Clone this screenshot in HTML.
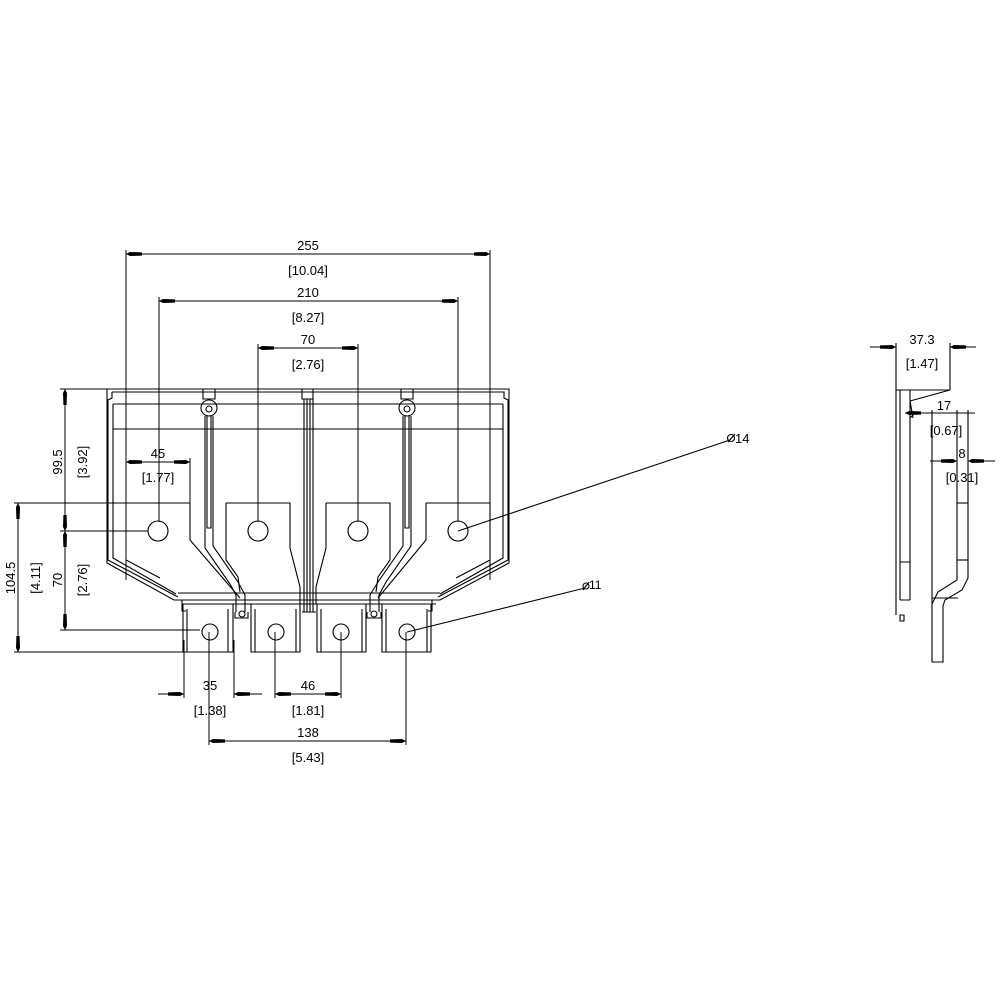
<!DOCTYPE html>
<html><head><meta charset="utf-8"><style>
html,body{margin:0;padding:0;background:#fff;}
svg{display:block;}
text{font-family:"Liberation Sans",sans-serif;font-size:13px;fill:#000;}
</style></head><body>
<svg width="1000" height="1000" viewBox="0 0 1000 1000" xmlns="http://www.w3.org/2000/svg">
<defs>
<marker id="a" markerUnits="userSpaceOnUse" markerWidth="20" markerHeight="8" refX="0" refY="0" viewBox="-18 -4 20 8" orient="auto-start-reverse" overflow="visible">
<polygon points="0,0 -4,-2 -16,-1.6 -16,1.6 -4,2" fill="#000"/>
</marker>
</defs>
<g stroke="#000" stroke-width="1.1" fill="none" shape-rendering="crispEdges">
<line x1="126" y1="250" x2="126" y2="580"/>
<line x1="490" y1="250" x2="490" y2="580"/>
<line x1="126" y1="254" x2="490" y2="254" marker-start="url(#a)" marker-end="url(#a)"/>
<line x1="159" y1="297" x2="159" y2="522"/>
<line x1="458" y1="297" x2="458" y2="522"/>
<line x1="159" y1="301" x2="458" y2="301" marker-start="url(#a)" marker-end="url(#a)"/>
<line x1="258" y1="344" x2="258" y2="522"/>
<line x1="358" y1="344" x2="358" y2="522"/>
<line x1="258" y1="348" x2="358" y2="348" marker-start="url(#a)" marker-end="url(#a)"/>
<line x1="190" y1="458" x2="190" y2="540"/>
<line x1="126" y1="462" x2="190" y2="462" marker-start="url(#a)" marker-end="url(#a)"/>
<line x1="60" y1="389" x2="107" y2="389"/>
<line x1="14" y1="503" x2="190" y2="503"/>
<line x1="60" y1="531" x2="148" y2="531"/>
<line x1="60" y1="630" x2="200" y2="630"/>
<line x1="14" y1="652" x2="185" y2="652"/>
<line x1="65" y1="389" x2="65" y2="531" marker-start="url(#a)" marker-end="url(#a)"/>
<line x1="65" y1="531" x2="65" y2="630" marker-start="url(#a)" marker-end="url(#a)"/>
<line x1="18" y1="503" x2="18" y2="652" marker-start="url(#a)" marker-end="url(#a)"/>
<line x1="184" y1="640" x2="184" y2="698"/>
<line x1="234" y1="640" x2="234" y2="698"/>
<line x1="158" y1="694" x2="184" y2="694" marker-end="url(#a)"/>
<line x1="262" y1="694" x2="234" y2="694" marker-end="url(#a)"/>
<line x1="275" y1="632" x2="275" y2="698"/>
<line x1="341" y1="632" x2="341" y2="698"/>
<line x1="275" y1="694" x2="341" y2="694" marker-start="url(#a)" marker-end="url(#a)"/>
<line x1="209" y1="632" x2="209" y2="745"/>
<line x1="406" y1="632" x2="406" y2="745"/>
<line x1="209" y1="741" x2="406" y2="741" marker-start="url(#a)" marker-end="url(#a)"/>
</g>
<g stroke="#000" stroke-width="1.1" fill="none">
<line x1="458" y1="531" x2="730" y2="440"/>
<line x1="407" y1="632" x2="585" y2="588"/>
<circle cx="731" cy="438" r="3.5"/><line x1="728" y1="442" x2="735" y2="434"/>
<circle cx="586" cy="586" r="3"/><line x1="583" y1="590" x2="589" y2="582"/>

<path d="M107,389 H509 V563 L440,600 H432 V611 H428"/>
<path d="M107,389 V563 L174,600 H182 V611 H186"/>
<path d="M112,392 H504 V398 L508,400 V560 L438,597"/>
<path d="M112,392 V398 L108,400 V560 L178,597"/>
<path d="M113,404 H503 M113,404 V558 L176,594 M503,404 V558 L440,594"/>
<line x1="113" y1="429" x2="503" y2="429"/>
<line x1="174" y1="600" x2="440" y2="600"/>
<line x1="178" y1="593" x2="440" y2="593"/>
<line x1="182" y1="604" x2="436" y2="604"/>
<path d="M126,560 L160,578 M190,503 V540 L240,598"/>
<path d="M226,503 H290 V548 L300,587 V604 M226,503 V560 L238,577 L240,592"/>
<path d="M326,503 H390 V560 L378,577 L376,592 M326,503 V548 L316,587 V604"/>
<path d="M426,503 H490 V560 L456,578 M426,503 V540 L378,598"/>
<path d="M302,389 V399 H313 V389 M304,399 V612 M307,399 V612 M310,399 V612 M313,399 V612 M302,612 H316"/>
<path d="M203,389 V399 H215 V389"/>
<circle cx="209" cy="408" r="8"/><circle cx="209" cy="409" r="3"/>
<path d="M207,416 V528 H211 V416 M205,416 V548 L230,584 L236,595 V612 M213,416 V546 L238,582 L245,595 V612"/>
<circle cx="242" cy="614" r="3"/>
<path d="M235,612 V618 H248 V612"/>
<path d="M401,389 V399 H413 V389"/>
<circle cx="407" cy="408" r="8"/><circle cx="407" cy="409" r="3"/>
<path d="M405,416 V528 H409 V416 M403,416 V546 L378,582 L370,595 V612 M411,416 V546 L386,582 L379,595 V612"/>
<circle cx="374" cy="614" r="3"/>
<path d="M367,612 V618 H381 V612"/>
<circle cx="158" cy="531" r="10"/>
<circle cx="258" cy="531" r="10"/>
<circle cx="358" cy="531" r="10"/>
<circle cx="458" cy="531" r="10"/>
<path d="M183,604 V652 H233 V604 M187,609 V652 M228,609 V652"/>
<path d="M251,604 V652 H300 V604 M255,609 V652 M296,609 V652"/>
<path d="M317,604 V652 H366 V604 M321,609 V652 M362,609 V652"/>
<path d="M382,604 V652 H431 V604 M386,609 V652 M427,609 V652"/>
<circle cx="210" cy="632" r="8"/>
<circle cx="276" cy="632" r="8"/>
<circle cx="341" cy="632" r="8"/>
<circle cx="407" cy="632" r="8"/>

<line x1="896" y1="343" x2="896" y2="390"/>
<line x1="950" y1="343" x2="950" y2="390"/>
<line x1="870" y1="347" x2="896" y2="347" marker-end="url(#a)"/>
<line x1="976" y1="347" x2="950" y2="347" marker-end="url(#a)"/>
<path d="M896,390 H950 L910,401"/>
<path d="M896,390 V612 M900,390 V600 M910,390 V600 M900,600 H910 M900,562 H910 M900,615 H904 V621 H900 Z M896,612 V615"/>
<path d="M910,401 L913,418 M910,418 L916,412"/>
<line x1="905" y1="413" x2="932" y2="413" marker-start="url(#a)"/>
<line x1="932" y1="413" x2="975" y2="413"/>
<path d="M932,410 V662 H943 V606 L945,600 L962,590 L968,578 V410"/>
<path d="M957,410 V580 L938,592 L932,604 M932,598 H958"/>
<line x1="957" y1="503" x2="968" y2="503"/>
<line x1="957" y1="560" x2="968" y2="560"/>
<line x1="930" y1="461" x2="957" y2="461" marker-end="url(#a)"/>
<line x1="995" y1="461" x2="968" y2="461" marker-end="url(#a)"/>
</g>
<g text-anchor="middle">
<text x="308" y="250">255</text>
<text x="308" y="275">[10.04]</text>
<text x="308" y="297">210</text>
<text x="308" y="322">[8.27]</text>
<text x="308" y="344">70</text>
<text x="308" y="369">[2.76]</text>
<text x="158" y="458">45</text>
<text x="158" y="482">[1.77]</text>
<text x="210" y="690">35</text>
<text x="210" y="715">[1.38]</text>
<text x="308" y="690">46</text>
<text x="308" y="715">[1.81]</text>
<text x="308" y="737">138</text>
<text x="308" y="762">[5.43]</text>
<text x="922" y="344">37.3</text>
<text x="922" y="368">[1.47]</text>
<text x="944" y="410">17</text>
<text x="946" y="435">[0.67]</text>
<text x="962" y="458">8</text>
<text x="962" y="482">[0.31]</text>
<text transform="translate(62,462) rotate(-90)">99.5</text>
<text transform="translate(87,462) rotate(-90)">[3.92]</text>
<text transform="translate(62,580) rotate(-90)">70</text>
<text transform="translate(87,580) rotate(-90)">[2.76]</text>
<text transform="translate(15,578) rotate(-90)">104.5</text>
<text transform="translate(40,578) rotate(-90)">[4.11]</text>
</g>
<text x="735" y="443">14</text>
<text x="589" y="589" style="font-size:12px">11</text>
</svg>
</body></html>
